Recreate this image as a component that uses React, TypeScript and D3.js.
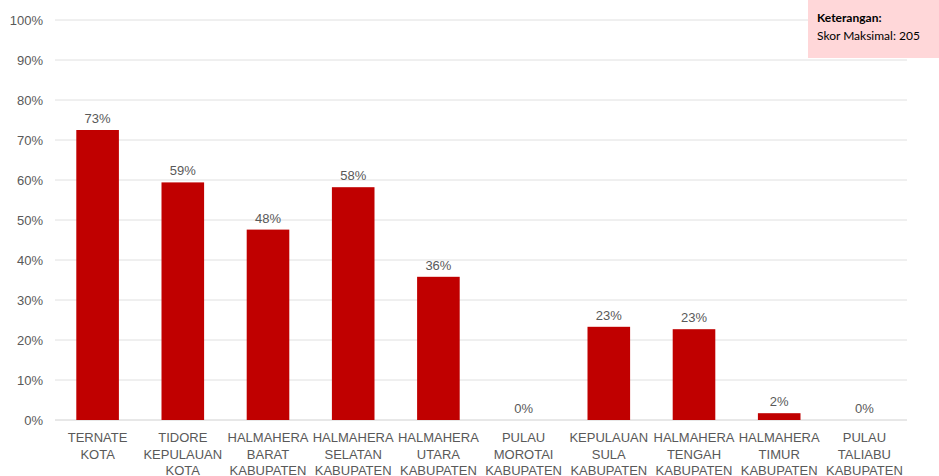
import React from "react";
import * as d3 from "d3";

const categories: string[][] = [
  ["TERNATE", "KOTA"],
  ["TIDORE", "KEPULAUAN", "KOTA"],
  ["HALMAHERA", "BARAT", "KABUPATEN"],
  ["HALMAHERA", "SELATAN", "KABUPATEN"],
  ["HALMAHERA", "UTARA", "KABUPATEN"],
  ["PULAU", "MOROTAI", "KABUPATEN"],
  ["KEPULAUAN", "SULA", "KABUPATEN"],
  ["HALMAHERA", "TENGAH", "KABUPATEN"],
  ["HALMAHERA", "TIMUR", "KABUPATEN"],
  ["PULAU", "TALIABU", "KABUPATEN"],
];
const values: number[] = [72.5, 59.4, 47.6, 58.2, 35.8, 0, 23.3, 22.7, 1.7, 0];
const yTicks: number[] = [0, 10, 20, 30, 40, 50, 60, 70, 80, 90, 100];
const legendTitle = "Keterangan:";
const legendText = "Skor Maksimal: 205";

const W = 939;
const H = 476;
const left = 55;
const right = 907;
const top = 20;
const bottom = 420;

export default function App() {
  const x = d3
    .scaleBand<number>()
    .domain(values.map((_, i) => i))
    .range([left, right])
    .paddingInner(0.5)
    .paddingOuter(0.25);
  const y = d3.scaleLinear().domain([0, 100]).range([bottom, top]);
  const font = "'Liberation Sans', Arial, sans-serif";
  const textColor = "#595959";

  return (
    <svg
      width={W}
      height={H}
      style={{ position: "absolute", left: 0, top: 0, background: "#fff" }}
      fontFamily={font}
    >
      {yTicks.map((t) => (
        <g key={t}>
          <line
            x1={left}
            x2={right}
            y1={y(t)}
            y2={y(t)}
            stroke={t === 0 ? "#d0d0d0" : "#e0e0e0"}
            strokeWidth={1}
          />
          <text
            x={43}
            y={y(t)}
            dy="0.35em"
            textAnchor="end"
            fontSize={13}
            fill={textColor}
          >
            {t}%
          </text>
        </g>
      ))}
      {values.map((v, i) => {
        const bx = x(i)!;
        const cx = bx + x.bandwidth() / 2;
        return (
          <g key={i}>
            {v > 0 && (
              <rect
                x={bx}
                y={y(v)}
                width={x.bandwidth()}
                height={y(0) - y(v)}
                fill="#c00000"
              />
            )}
            <text
              x={cx}
              y={y(v) - 7}
              textAnchor="middle"
              fontSize={13}
              fill={textColor}
            >
              {Math.round(v)}%
            </text>
            {categories[i].map((line, j) => (
              <text
                key={j}
                x={cx}
                y={442 + j * 16.5}
                textAnchor="middle"
                fontSize={13}
                fill={textColor}
              >
                {line}
              </text>
            ))}
          </g>
        );
      })}
      <rect x={808} y={0} width={131} height={58} fill="#ffd7d9" />
      <text
        x={817}
        y={22}
        fontSize={12}
        fontWeight="bold"
        fill="#000"
        fontFamily="Lato, 'Open Sans', sans-serif"
      >
        {legendTitle}
      </text>
      <text
        x={817}
        y={40}
        fontSize={12}
        fill="#000"
        fontFamily="Lato, 'Open Sans', sans-serif"
      >
        {legendText}
      </text>
    </svg>
  );
}
